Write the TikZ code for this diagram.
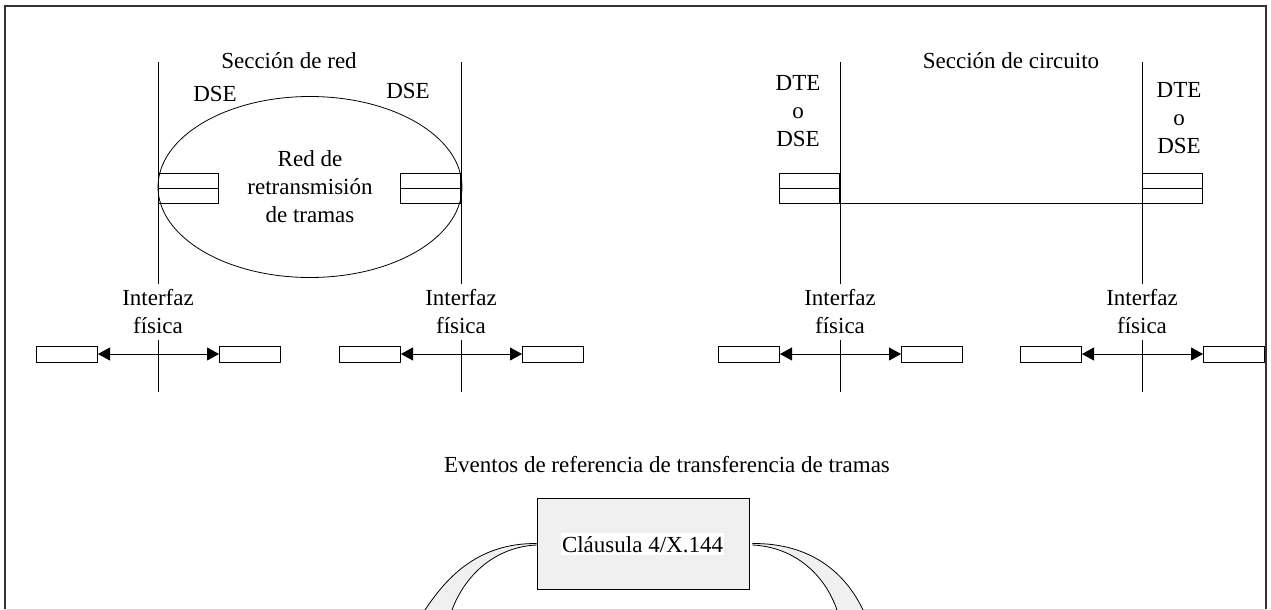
\documentclass[tikz,border=0pt]{standalone}
\usepackage{fontspec}
\setmainfont{Liberation Serif}
\usetikzlibrary{shapes.geometric,arrows.meta}
\definecolor{clauseGray}{RGB}{240,240,240}
\newcommand{\ifaceLine}[2]{%
  \coordinate (#2Top) at (#1,62);
  \coordinate (#2Bottom) at (#1,392);
  \draw[lineStyle] (#2Top) -- (#2Bottom);
  \node[labelStyle,fill=white,inner xsep=0pt,inner ysep=6pt] (#2Label) at (#1,312) {Interfaz\\física};
  \node[portStyle,anchor=east] (#2Left) at (#1-60,354) {};
  \node[portStyle,anchor=west] (#2Right) at (#1+61,354) {};
  \draw[arrowStyle] (#2Left) -- (#2Right);
}

\begin{document}
\begin{tikzpicture}[%
  x=1pt,y=-1pt,
  lineStyle/.style={-,line width=0.8pt},
  frameStyle/.style={-,line width=1.2pt,black!80},
  labelStyle/.style={inner sep=0pt,align=center,font=\fontsize{23}{28}\selectfont},
  portStyle/.style={draw,line width=0.8pt,fill=white,inner sep=0pt,minimum width=61pt,minimum height=16pt},
  queueStyle/.style={draw,line width=0.8pt,inner sep=0pt,minimum width=60pt,minimum height=30pt},
  arrowStyle/.style={{Triangle[length=12pt,width=13pt]}-{Triangle[length=12pt,width=13pt]},line width=0.8pt}
]
%
\useasboundingbox (0,0) rectangle (1271,610);
%
\coordinate (frameLowerLeft) at (5,609);
\coordinate (frameUpperLeft) at (5,6);
\coordinate (frameUpperRight) at (1266,6);
\coordinate (frameLowerRight) at (1266,609);
% Ends of the bands under the clause box.
\coordinate (bandLeftOuter) at (425,610);
\coordinate (bandLeftInner) at (452,610);
\coordinate (bandRightOuter) at (863,610);
\coordinate (bandRightInner) at (837,610);
%
%
% The frame.
\draw[frameStyle] (frameLowerLeft) -- (frameUpperLeft) -- (frameUpperRight) -- (frameLowerRight);
\draw[black!15,line width=1pt] (frameLowerLeft) -- (frameLowerRight);
%
% Network section.
\node[labelStyle,anchor=base] (netTitle) at (289,69) {Sección de red};
\node[labelStyle,anchor=base] (netDseLeft) at (215,101) {DSE};
\node[labelStyle,anchor=base] (netDseRight) at (408,99) {DSE};
\node[draw,ellipse,lineStyle,labelStyle,minimum width=304pt,minimum height=181pt] (frNet) at (310,187) {Red de\\retransmisión\\de tramas};
\node[queueStyle] (netQueueLeft) at (188,188) {};
\node[queueStyle] (netQueueRight) at (430.5,188) {};
\draw[lineStyle] (netQueueLeft.west) -- (netQueueLeft.east);
\draw[lineStyle] (netQueueRight.west) -- (netQueueRight.east);
\ifaceLine{158}{netA}
\ifaceLine{461}{netB}
%
% Circuit section.
\node[labelStyle,anchor=base] (cirTitle) at (1011,69) {Sección de circuito};
\node[labelStyle] (cirEndLeft) at (798,111) {DTE\\o\\DSE};
\node[labelStyle] (cirEndRight) at (1179,118) {DTE\\o\\DSE};
\node[queueStyle] (cirQueueLeft) at (809.5,188) {};
\node[queueStyle] (cirQueueRight) at (1172.5,188) {};
\draw[lineStyle] (cirQueueLeft.west) -- (cirQueueLeft.east);
\draw[lineStyle] (cirQueueRight.west) -- (cirQueueRight.east);
\draw[lineStyle] (cirQueueLeft.south east) -- (cirQueueRight.south west);
\ifaceLine{840}{cirA}
\ifaceLine{1142}{cirB}
%
% Reference events.
\node[labelStyle,anchor=base] (events) at (667,472) {Eventos de referencia de transferencia de tramas};
\node[draw,line width=0.8pt,fill=clauseGray,minimum width=212pt,minimum height=91pt] (clause) at (643,543.5) {};
\node[labelStyle,fill=white,inner xsep=1pt,inner ysep=3pt,anchor=base] (clauseText) at (642.5,552) {Cláusula 4/X.144};
% The bands leaving the clause box.  Fill first, lines on top.
\fill[clauseGray] (clause.west) .. controls (480,543) and (448,575) .. (bandLeftOuter)
  -- (bandLeftInner) .. controls (465,575) and (495,547) .. ([yshift=-1.5pt]clause.west) -- cycle;
\draw[lineStyle] (clause.west) .. controls (480,543) and (448,575) .. (bandLeftOuter);
\draw[lineStyle] ([yshift=-1.5pt]clause.west) .. controls (495,547) and (465,575) .. (bandLeftInner);
\fill[clauseGray] ([xshift=3pt]clause.east) .. controls (810,543) and (845,572) .. (bandRightOuter)
  -- (bandRightInner) .. controls (825,575) and (795,547) .. ([xshift=3pt,yshift=-1.5pt]clause.east) -- cycle;
\draw[lineStyle] ([xshift=3pt]clause.east) .. controls (810,543) and (845,572) .. (bandRightOuter);
\draw[lineStyle] ([xshift=3pt,yshift=-1.5pt]clause.east) .. controls (795,547) and (825,575) .. (bandRightInner);
\end{tikzpicture}
\end{document}
